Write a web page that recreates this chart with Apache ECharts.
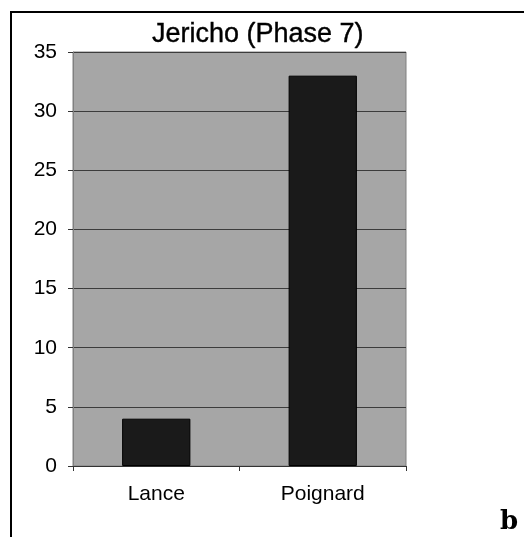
<!DOCTYPE html>
<html>
<head>
<meta charset="utf-8">
<script src="https://cdn.jsdelivr.net/npm/echarts@6/dist/echarts.min.js"></script>
<style>
  html, body { margin: 0; padding: 0; background: #fff; }
  #frame { position: absolute; left: 10px; top: 11px; width: 520px; height: 540px;
           border-top: 2px solid #000; border-left: 2px solid #000; }
  #chart { position: absolute; left: 0; top: 0; width: 524px; height: 537px; }
</style>
</head>
<body>
<div id="frame"></div>
<div id="chart"></div>
<script>
const categories = ['Lance', 'Poignard']
const counts = [4, 33]
const yTicks = [0, 5, 10, 15, 20, 25, 30, 35]

const font = '"Liberation Sans", Arial, sans-serif'

const chart = echarts.init(document.getElementById('chart'))
chart.setOption({
  animation: false,
  title: [{
    text: 'Jericho (Phase 7)',
    left: 147,
    top: 16,
    textStyle: { fontFamily: font, fontSize: 27, fontWeight: 'normal', color: '#000',
                 textBorderColor: '#000', textBorderWidth: 0.4 }
  }, {
    text: 'b',
    left: 495,
    top: 504,
    textStyle: { fontFamily: '"DejaVu Serif", serif', fontSize: 26, fontWeight: 'bold', color: '#000' }
  }],
  grid: {
    left: 73,
    right: 118,
    top: 52,
    bottom: 71,
    show: true,
    backgroundColor: '#a6a6a6',
    borderColor: '#808080',
    borderWidth: 1
  },
  xAxis: {
    type: 'category',
    data: categories,
    axisLine: { lineStyle: { color: '#333', width: 1 } },
    axisTick: { show: true, length: 5, lineStyle: { color: '#333' } },
    axisLabel: { margin: 18, fontFamily: font, fontSize: 21, color: '#000' }
  },
  yAxis: {
    type: 'value',
    min: yTicks[0],
    max: yTicks[yTicks.length - 1],
    interval: 5,
    axisLine: { show: true, lineStyle: { color: '#808080' } },
    axisTick: { show: true, length: 5, lineStyle: { color: '#333' } },
    axisLabel: { margin: 16, fontFamily: font, fontSize: 21, color: '#000' },
    splitLine: { lineStyle: { color: '#3c3c3c', width: 1 } }
  },
  series: [{
    type: 'bar',
    data: counts,
    barWidth: '41%',
    itemStyle: { color: '#1a1a1a', borderColor: '#000', borderWidth: 1 }
  }]
})
</script>
</body>
</html>
